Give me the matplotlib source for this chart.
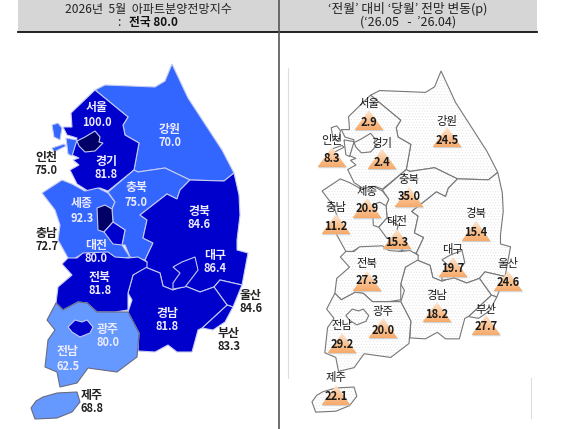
import numpy as np
import matplotlib as mpl
import matplotlib.pyplot as plt
from matplotlib.patches import Polygon
from matplotlib.colors import LinearSegmentedColormap

plt.rcParams['font.family'] = ['Noto Sans CJK KR', 'DejaVu Sans']
plt.rcParams['hatch.linewidth'] = 0.3

# ---------------------------------------------------------------
# values
regions = ['서울', '강원', '인천', '경기', '충북', '세종', '충남', '대전', '경북',
           '대구', '전북', '경남', '울산', '부산', '광주', '전남', '제주']
index_now = [100.0, 70.0, 75.0, 81.8, 75.0, 92.3, 72.7, 80.0, 84.6,
             86.4, 81.8, 81.8, 84.6, 83.3, 80.0, 62.5, 68.8]
change = [2.9, 24.5, 8.3, 2.4, 35.0, 20.9, 11.2, 15.3, 15.4,
          19.7, 27.3, 18.2, 24.6, 27.7, 20.0, 29.2, 22.1]
dark_labels = ['인천', '충남', '울산', '부산', '제주']

# ---------------------------------------------------------------
# map outlines, traced in picture pixels
shapes = {
    '강원': [(95, 90), (105, 85), (155, 87), (165, 81), (172, 64), (188, 98), (222, 150), (234, 173),
           (224, 181), (190, 180), (165, 168), (138, 172), (134, 170), (139, 143), (125, 135),
           (123, 125), (128, 117)],
    '경기': [(95, 90), (128, 117), (123, 125), (125, 135), (139, 143), (134, 170), (108, 191),
           (100, 188), (88, 191), (77, 184), (70, 170), (79, 165), (73, 160), (79, 158), (72, 155),
           (77, 138), (67, 135), (63, 127), (72, 127), (71, 113)],
    '충남': [(42, 193), (62, 180), (72, 184), (85, 191), (98, 188), (108, 193), (115, 202), (112, 209),
           (113, 222), (125, 230), (122, 245), (130, 257), (116, 260), (112, 255), (88, 258),
           (82, 254), (72, 260), (68, 258), (58, 240), (60, 225), (55, 210)],
    '충북': [(108, 192), (134, 170), (138, 172), (165, 168), (190, 180), (180, 190), (177, 199),
           (167, 194), (140, 215), (147, 220), (143, 238), (153, 243), (145, 260), (130, 257),
           (125, 245), (122, 245), (125, 230), (113, 222), (112, 209), (115, 202)],
    '경북': [(190, 180), (224, 181), (234, 173), (239, 195), (240, 215), (237, 240), (237, 250),
           (248, 253), (242, 285), (220, 280), (214, 287), (200, 292), (185, 286), (173, 290),
           (163, 286), (160, 273), (145, 267), (147, 262), (145, 260), (153, 243), (143, 238),
           (147, 220), (140, 215), (167, 194), (177, 199), (180, 190)],
    '울산': [(220, 280), (242, 285), (233, 307), (227, 305), (214, 287)],
    '부산': [(227, 305), (233, 307), (225, 322), (213, 330), (202, 328)],
    '경남': [(145, 267), (160, 273), (163, 286), (173, 290), (185, 286), (200, 292), (214, 287),
           (227, 305), (202, 328), (198, 330), (192, 352), (177, 352), (168, 345), (155, 352),
           (138, 351), (139, 333), (128, 312), (132, 300), (128, 293), (133, 275)],
    '전북': [(62, 264), (72, 275), (58, 287), (56, 303), (63, 310), (78, 302), (87, 303), (97, 312),
           (115, 312), (128, 310), (128, 293), (133, 275), (147, 267), (147, 262), (138, 257),
           (128, 258), (115, 257), (108, 252), (83, 253), (77, 258), (68, 258)],
    '전남': [(56, 303), (47, 320), (55, 330), (48, 340), (45, 367), (57, 372), (60, 387), (77, 383),
           (88, 368), (117, 372), (137, 357), (139, 333), (128, 312), (115, 312), (97, 312),
           (87, 303), (78, 302), (63, 310)],
    '제주': [(31, 408), (36, 401), (43, 397), (57, 393), (77, 392), (80, 402), (72, 412), (57, 418), (35, 419)],
    '광주': [(68, 327), (75, 320), (82, 322), (87, 320), (93, 327), (90, 333), (80, 337), (72, 332)],
    '대구': [(173, 267), (182, 262), (195, 257), (198, 270), (192, 278), (185, 287), (173, 289),
           (173, 283), (180, 273)],
    '서울': [(77, 141), (85, 137), (95, 131), (100, 137), (99, 142), (103, 143), (95, 151), (85, 152),
           (79, 146)],
    '세종': [(97, 208), (105, 205), (112, 209), (113, 222), (104, 232), (98, 230)],
    '대전': [(113, 222), (125, 230), (122, 245), (113, 244), (104, 232)],
    '인천': [(66, 138), (77, 140), (72, 156), (68, 154)],
}
incheon_islands = [
    [(52, 125), (58, 123), (62, 128), (60, 140), (54, 137)],
    [(52, 148), (64, 144), (66, 146), (54, 152)],
]

# label anchors: x, name y, value y
pos_left = {'서울': (97, 108, 122), '강원': (170, 129, 143), '인천': (46, 157, 171), '경기': (106, 161, 174),
            '충북': (136, 188, 202), '세종': (82, 204, 218), '충남': (47, 233, 247), '대전': (96, 245, 258),
            '경북': (199, 211, 224), '대구': (215, 255, 269), '전북': (100, 277, 291), '경남': (167, 313, 326),
            '울산': (251, 295, 308), '부산': (229, 333, 347), '광주': (108, 330, 343), '전남': (68, 352, 366),
            '제주': (92, 396, 409)}
# triangle x, name y, value y, triangle base y
pos_right = {'서울': (369, 104, 123, 130), '강원': (447, 122, 140, 147), '인천': (332, 140, 159, 167),
             '경기': (382, 143, 162, 169), '충북': (409, 179, 197, 207), '세종': (367, 191, 209, 218),
             '충남': (336, 207, 227, 234), '대전': (397, 222, 242, 249), '경북': (476, 214, 232, 241),
             '대구': (453, 250, 268, 277), '전북': (367, 263, 281, 291), '경남': (437, 296, 314, 322),
             '울산': (508, 264, 282, 291), '부산': (486, 309, 327, 335), '광주': (383, 312, 331, 338),
             '전남': (342, 326, 344, 353), '제주': (336, 378, 397, 405)}


def cor_indice(v):
    if v >= 90:
        return '#000066'
    if v >= 80:
        return '#0000cc'
    if v >= 70:
        return '#3366ff'
    return '#6699ff'


def para_direita(pts, nome):
    # the right map is the left one, a bit smaller
    a = np.array(pts, dtype=float)
    x = 312 + (a[:, 0] - 31) * 0.915
    y = 71 + (a[:, 1] - 64) * 0.93
    if nome == '제주':
        y = y + 11
    return np.column_stack([x, y])


fig = plt.figure(figsize=(5.8, 4.29), dpi=100)
ax = fig.add_axes([0, 0, 1, 1])
ax.axis('off')

# header
ax.fill_between([18, 537], 0, 31.5, color='#d6d6d6', lw=0, zorder=1)
ax.plot([18, 537], [32, 32], color='#111111', lw=1.3, zorder=2)
ax.plot([279, 279], [0, 429], color='#555555', lw=1.2, zorder=2)
ax.plot([287.5, 287.5], [68, 378], color='#dddddd', lw=0.8, zorder=1)
ax.plot([531, 531], [378, 418], color='#dddddd', lw=0.8, zorder=1)

ax.text(148, 9.5, '2026년  5월  아파트분양전망지수', ha='center', va='center', fontsize=8.7, color='#222222')
ax.text(119, 22.5, ':', ha='center', va='center', fontsize=8.7, color='#222222')
ax.text(153, 22.5, '전국 80.0', ha='center', va='center', fontsize=8.5, fontweight='bold', color='#111111')
ax.text(408, 9.5, '‘전월’ 대비 ‘당월’ 전망 변동(p)', ha='center', va='center', fontsize=9.2,
        fontweight='medium', color='#222222')
ax.text(408, 22.5, '(‘26.05   -  ’26.04)', ha='center', va='center', fontsize=9,
        fontweight='medium', color='#222222')

# left map
valores = dict(zip(regions, index_now))
for nome, pts in shapes.items():
    v = valores[nome]
    borda = '#6a6a80' if v < 70 else '#c4caf2'
    ax.add_patch(Polygon(pts, closed=True, facecolor=cor_indice(v), edgecolor=borda, lw=0.8, zorder=3))
for pts in incheon_islands:
    ax.add_patch(Polygon(pts, closed=True, facecolor=cor_indice(valores['인천']), edgecolor='#c4caf2',
                         lw=0.8, zorder=3))

for nome, v in zip(regions, index_now):
    x, y1, y2 = pos_left[nome]
    cor = '#222222' if nome in dark_labels else '#ecebff'
    ax.text(x, y1, nome, ha='center', va='center', fontsize=8.6, fontweight='bold', color=cor, zorder=6)
    ax.text(x, y2, f'{v:.1f}', ha='center', va='center', fontsize=8, fontweight='bold', color=cor, zorder=6)

# right map
for nome, pts in shapes.items():
    a = para_direita(pts, nome)
    ax.add_patch(Polygon(a, closed=True, facecolor='white', edgecolor='#dedede', lw=0, hatch='......', zorder=3))
    ax.add_patch(Polygon(a, closed=True, fill=False, edgecolor='#777777', lw=0.8, zorder=3))
for pts in incheon_islands:
    ax.add_patch(Polygon(para_direita(pts, '인천'), closed=True, facecolor='white', edgecolor='#777777',
                         lw=0.8, zorder=3))

# triangles with the soft orange gradient
laranja = LinearSegmentedColormap.from_list('laranja', ['#fde6d2', '#fac596', '#f6ab6c'])
grad = np.linspace(0, 1, 32).reshape(-1, 1)
for nome, v in zip(regions, change):
    x, y1, y2, base = pos_right[nome]
    tri = [(x - 14.5, base), (x + 14.5, base), (x, base - 20)]
    sombra = [(px + 0.6, py + 1.2) for px, py in tri]
    ax.add_patch(Polygon(sombra, closed=True, facecolor='#bbbbbb', edgecolor='none', alpha=0.6, zorder=4))
    im = ax.imshow(grad, extent=[x - 14.5, x + 14.5, base, base - 20], cmap=laranja, aspect='auto', zorder=5)
    clip = Polygon(tri, closed=True, facecolor='none', edgecolor='none', transform=ax.transData)
    ax.add_patch(clip)
    im.set_clip_path(clip)
    ax.text(x, y1, nome, ha='center', va='center', fontsize=8.2, fontweight='medium', color='#1a1a1a', zorder=6)
    ax.text(x, y2, f'{v:.1f}', ha='center', va='center', fontsize=8, fontweight='bold', color='#1a1a1a', zorder=6)

ax.set_xlim(0, 580)
ax.set_ylim(429, 0)
fig.savefig('out.png', dpi=100)
